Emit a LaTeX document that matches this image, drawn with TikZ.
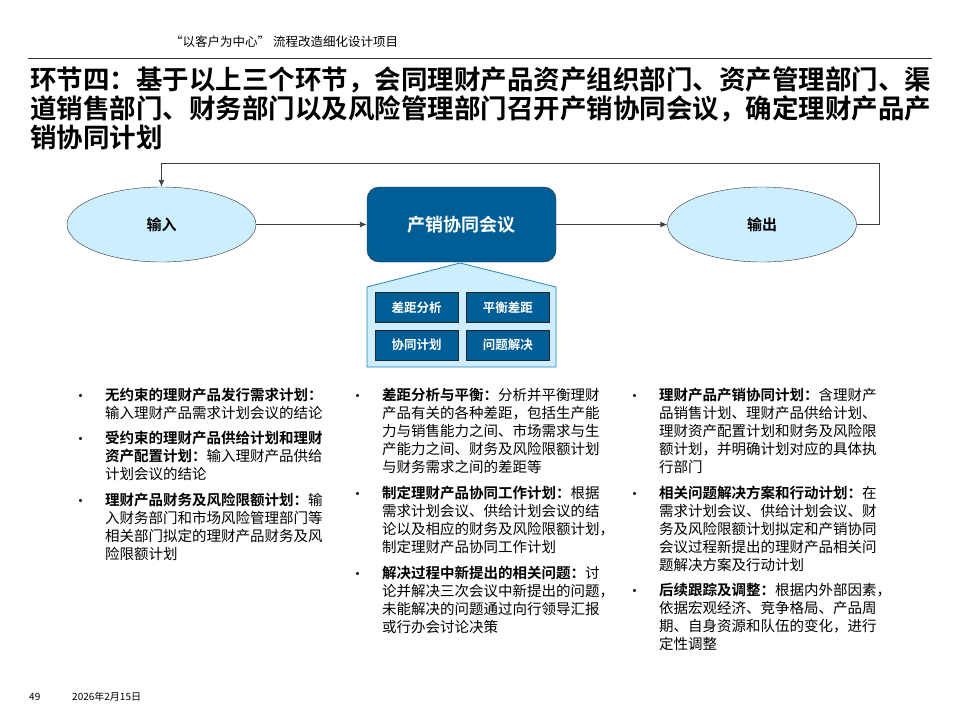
\documentclass[tikz,border=0pt]{standalone}
\usepackage{fontspec}
\setmainfont{Noto Sans CJK SC}[BoldFont={Noto Sans CJK SC Bold}]
\usepackage{xcolor}
\usepackage{tikz}
\usetikzlibrary{shapes.geometric,arrows.meta,positioning}
\definecolor{meetblue}{RGB}{0,94,150}
\definecolor{paleblue}{RGB}{204,238,255}
\definecolor{houseline}{RGB}{40,130,180}
\tikzset{
  ionode/.style={
    ellipse, draw=black!80, fill=paleblue, thin,
    minimum width=189pt, minimum height=75pt,
    font=\fontsize{15}{18}\selectfont\bfseries
  },
  meetnode/.style={
    rectangle, rounded corners=12pt, draw=black!80, fill=meetblue,
    minimum width=189pt, minimum height=75pt, text=white,
    font=\fontsize{18}{22}\selectfont\bfseries
  },
  tasknode/.style={
    rectangle, draw=black!85, fill=meetblue, text=white,
    minimum width=83pt, minimum height=30pt, inner sep=0pt,
    font=\fontsize{12.5}{15}\selectfont\bfseries
  },
  flowarrow/.style={-{Latex[length=7pt,width=6pt]}, draw=black!75, line width=0.9pt},
  bitem/.style={
    anchor=north west, align=left, inner sep=0pt,
    font=\fontsize{14.5}{18}\selectfont,
    label={[anchor=north east, inner sep=0pt, xshift=-17pt, yshift=-6.5pt,
            font=\fontsize{14.5}{18}\selectfont]north west:\textbullet}
  },
}

\begin{document}
\begin{tikzpicture}[x=1pt, y=-1pt]
  \useasboundingbox (0,0) rectangle (960,720);
  % header
  \node (proj) [anchor=west, inner sep=0pt, font=\fontsize{12.5}{14}\selectfont]
    at (170,42) {“以客户为中心” 流程改造细化设计项目};
  \draw[black!80, line width=0.8pt] (28,58) -- (932,58);
  \node (title) [anchor=north west, align=left, inner sep=0pt,
    font=\fontsize{26.5}{29}\selectfont\bfseries] at (30,67)
    {环节四：基于以上三个环节，会同理财产品资产组织部门、资产管理部门、渠\\
     道销售部门、财务部门以及风险管理部门召开产销协同会议，确定理财产品产\\
     销协同计划};

  % flow
  \node (in) [ionode] at (161.5,224.5) {输入};
  \node (meet) [meetnode] at (461.5,224.5) {产销协同会议};
  \node (out) [ionode] at (762,224.5) {输出};
  \draw[flowarrow] (in) -- (meet);
  \draw[flowarrow] (meet) -- (out);
  \coordinate (fb) at (879,163);
  \draw[flowarrow] (out.east) -| (fb) -| (in.north);

  % house of tasks
  \draw[houseline, fill=paleblue, line width=0.8pt]
    (367,367) -- (367,287) -- (460,263) -- (556,287) -- (556,367) -- cycle;
  \node (gap) [tasknode] at (416.5,307.5) {差距分析};
  \node (bal) [tasknode, right=8pt of gap] {平衡差距};
  \node (plan) [tasknode, below=7pt of gap] {协同计划};
  \node (solve) [tasknode, right=8pt of plan] {问题解决};

  % column 1
  \node (c1a) [bitem] at (105,388)
    {\textbf{无约束的理财产品发行需求计划：}\\输入理财产品需求计划会议的结论};
  \node (c1b) [bitem, below=11pt of c1a.south west, anchor=north west]
    {\textbf{受约束的理财产品供给计划和理财}\\\textbf{资产配置计划：}输入理财产品供给\\计划会议的结论};
  \node (c1c) [bitem, below=12pt of c1b.south west, anchor=north west]
    {\textbf{理财产品财务及风险限额计划：}输\\入财务部门和市场风险管理部门等\\相关部门拟定的理财产品财务及风\\险限额计划};

  % column 2
  \node (c2a) [bitem] at (382,388)
    {\textbf{差距分析与平衡：}分析并平衡理财\\产品有关的各种差距，包括生产能\\力与销售能力之间、市场需求与生\\产能力之间、财务及风险限额计划\\与财务需求之间的差距等};
  \node (c2b) [bitem, below=12pt of c2a.south west, anchor=north west]
    {\textbf{制定理财产品协同工作计划：}根据\\需求计划会议、供给计划会议的结\\论以及相应的财务及风险限额计划，\\制定理财产品协同工作计划};
  \node (c2c) [bitem, below=12pt of c2b.south west, anchor=north west]
    {\textbf{解决过程中新提出的相关问题：}讨\\论并解决三次会议中新提出的问题，\\未能解决的问题通过向行领导汇报\\或行办会讨论决策};

  % column 3
  \node (c3a) [bitem] at (659,388)
    {\textbf{理财产品产销协同计划：}含理财产\\品销售计划、理财产品供给计划、\\理财资产配置计划和财务及风险限\\额计划，并明确计划对应的具体执\\行部门};
  \node (c3b) [bitem, below=12pt of c3a.south west, anchor=north west]
    {\textbf{相关问题解决方案和行动计划：}在\\需求计划会议、供给计划会议、财\\务及风险限额计划拟定和产销协同\\会议过程新提出的理财产品相关问\\题解决方案及行动计划};
  \node (c3c) [bitem, below=11pt of c3b.south west, anchor=north west]
    {\textbf{后续跟踪及调整：}根据内外部因素，\\依据宏观经济、竞争格局、产品周\\期、自身资源和队伍的变化，进行\\定性调整};

  % footer
  \node (page) [anchor=west, inner sep=0pt, font=\fontsize{10}{12}\selectfont] at (29,697) {49};
  \node (date) [anchor=west, inner sep=0pt, font=\fontsize{10}{12}\selectfont] at (72,697) {2026年2月15日};
\end{tikzpicture}
\end{document}
